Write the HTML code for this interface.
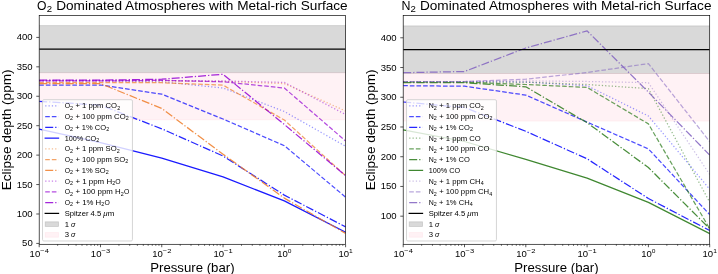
<!DOCTYPE html><html><head><meta charset="utf-8"><style>html,body{margin:0;padding:0;background:#fff}svg{display:block;filter:blur(0.4px)}</style></head><body><svg width="718" height="274" viewBox="0 0 718 274" font-family='"Liberation Sans", sans-serif'>
<rect width="718" height="274" fill="#fff"/>
<clipPath id="clip1"><rect x="39.2" y="15.5" width="306.40000000000003" height="228.8"/></clipPath>
<g clip-path="url(#clip1)">
<rect x="37.2" y="25.62" width="310.40000000000003" height="47.09" fill="#808080" fill-opacity="0.3" stroke="#808080" stroke-opacity="0.3" stroke-width="0.833"/>
<rect x="37.2" y="72.71" width="310.40000000000003" height="47.09" fill="#ffc0cb" fill-opacity="0.2" stroke="#ffc0cb" stroke-opacity="0.2" stroke-width="0.833"/>
<polyline points="39.20,80.90 100.48,80.90 161.76,81.80 223.04,88.00 284.32,111.50 345.60,146.30" fill="none" stroke="#0000ff" stroke-opacity="0.4" stroke-width="1.250" stroke-dasharray="1.250,2.062" stroke-linecap="butt" stroke-linejoin="round"/>
<polyline points="39.20,85.00 100.48,85.00 161.76,94.20 223.04,119.00 284.32,145.70 345.60,197.10" fill="none" stroke="#0000ff" stroke-opacity="0.7" stroke-width="1.250" stroke-dasharray="4.625,2.000" stroke-linecap="butt" stroke-linejoin="round"/>
<polyline points="39.20,101.30 100.48,105.10 161.76,128.80 223.04,156.00 284.32,195.10 345.60,226.90" fill="none" stroke="#0000ff" stroke-opacity="0.85" stroke-width="1.250" stroke-dasharray="8.000,2.000,1.250,2.000" stroke-linecap="butt" stroke-linejoin="round"/>
<polyline points="39.20,129.20 100.48,142.70 161.76,158.10 223.04,176.90 284.32,200.90 345.60,232.20" fill="none" stroke="#0000ff" stroke-opacity="0.9" stroke-width="1.250" stroke-linecap="square" stroke-linejoin="round"/>
<polyline points="39.20,80.90 100.48,80.90 161.76,80.90 223.04,81.50 284.32,83.60 345.60,111.00" fill="none" stroke="#ee7d28" stroke-opacity="0.5" stroke-width="1.250" stroke-dasharray="1.250,2.062" stroke-linecap="butt" stroke-linejoin="round"/>
<polyline points="39.20,82.70 100.48,82.70 161.76,82.70 223.04,85.10 284.32,120.00 345.60,175.70" fill="none" stroke="#ee7d28" stroke-opacity="0.7" stroke-width="1.250" stroke-dasharray="4.625,2.000" stroke-linecap="butt" stroke-linejoin="round"/>
<polyline points="39.20,83.60 100.48,83.60 161.76,108.50 223.04,154.20 284.32,198.10 345.60,233.40" fill="none" stroke="#ee7d28" stroke-opacity="0.85" stroke-width="1.250" stroke-dasharray="8.000,2.000,1.250,2.000" stroke-linecap="butt" stroke-linejoin="round"/>
<polyline points="39.20,80.40 100.48,80.40 161.76,80.40 223.04,80.90 284.32,82.40 345.60,114.50" fill="none" stroke="#9400d3" stroke-opacity="0.5" stroke-width="1.250" stroke-dasharray="1.250,2.062" stroke-linecap="butt" stroke-linejoin="round"/>
<polyline points="39.20,80.90 100.48,80.90 161.76,80.40 223.04,81.80 284.32,88.00 345.60,141.00" fill="none" stroke="#9400d3" stroke-opacity="0.7" stroke-width="1.250" stroke-dasharray="4.625,2.000" stroke-linecap="butt" stroke-linejoin="round"/>
<polyline points="39.20,80.20 100.48,80.20 161.76,79.20 223.04,74.30 284.32,124.50 345.60,175.70" fill="none" stroke="#9400d3" stroke-opacity="0.85" stroke-width="1.250" stroke-dasharray="8.000,2.000,1.250,2.000" stroke-linecap="butt" stroke-linejoin="round"/>
<line x1="39.2" x2="345.6" y1="49.17" y2="49.17" stroke="#000" stroke-width="1.250"/>
</g>
<rect x="39.2" y="15.5" width="306.40000000000003" height="228.8" fill="none" stroke="#000" stroke-width="0.667" stroke-linejoin="miter"/>
<line x1="39.20" x2="39.20" y1="244.3" y2="247.22" stroke="#000" stroke-width="0.667"/>
<g transform="translate(39.20 256.60)" fill="#000000"><text x="-9.64" y="0.00" font-size="8.75" textLength="10.60" lengthAdjust="spacingAndGlyphs" xml:space="preserve">10</text><text x="1.04" y="-3.19" font-size="6.12" textLength="8.60" lengthAdjust="spacingAndGlyphs" xml:space="preserve">−4</text></g>
<line x1="57.65" x2="57.65" y1="244.3" y2="245.97" stroke="#000" stroke-width="0.500"/>
<line x1="68.44" x2="68.44" y1="244.3" y2="245.97" stroke="#000" stroke-width="0.500"/>
<line x1="76.09" x2="76.09" y1="244.3" y2="245.97" stroke="#000" stroke-width="0.500"/>
<line x1="82.03" x2="82.03" y1="244.3" y2="245.97" stroke="#000" stroke-width="0.500"/>
<line x1="86.89" x2="86.89" y1="244.3" y2="245.97" stroke="#000" stroke-width="0.500"/>
<line x1="90.99" x2="90.99" y1="244.3" y2="245.97" stroke="#000" stroke-width="0.500"/>
<line x1="94.54" x2="94.54" y1="244.3" y2="245.97" stroke="#000" stroke-width="0.500"/>
<line x1="97.68" x2="97.68" y1="244.3" y2="245.97" stroke="#000" stroke-width="0.500"/>
<line x1="100.48" x2="100.48" y1="244.3" y2="247.22" stroke="#000" stroke-width="0.667"/>
<g transform="translate(100.48 256.60)" fill="#000000"><text x="-9.64" y="0.00" font-size="8.75" textLength="10.60" lengthAdjust="spacingAndGlyphs" xml:space="preserve">10</text><text x="1.04" y="-3.19" font-size="6.12" textLength="8.60" lengthAdjust="spacingAndGlyphs" xml:space="preserve">−3</text></g>
<line x1="118.93" x2="118.93" y1="244.3" y2="245.97" stroke="#000" stroke-width="0.500"/>
<line x1="129.72" x2="129.72" y1="244.3" y2="245.97" stroke="#000" stroke-width="0.500"/>
<line x1="137.37" x2="137.37" y1="244.3" y2="245.97" stroke="#000" stroke-width="0.500"/>
<line x1="143.31" x2="143.31" y1="244.3" y2="245.97" stroke="#000" stroke-width="0.500"/>
<line x1="148.17" x2="148.17" y1="244.3" y2="245.97" stroke="#000" stroke-width="0.500"/>
<line x1="152.27" x2="152.27" y1="244.3" y2="245.97" stroke="#000" stroke-width="0.500"/>
<line x1="155.82" x2="155.82" y1="244.3" y2="245.97" stroke="#000" stroke-width="0.500"/>
<line x1="158.96" x2="158.96" y1="244.3" y2="245.97" stroke="#000" stroke-width="0.500"/>
<line x1="161.76" x2="161.76" y1="244.3" y2="247.22" stroke="#000" stroke-width="0.667"/>
<g transform="translate(161.76 256.60)" fill="#000000"><text x="-9.64" y="0.00" font-size="8.75" textLength="10.60" lengthAdjust="spacingAndGlyphs" xml:space="preserve">10</text><text x="1.04" y="-3.19" font-size="6.12" textLength="8.60" lengthAdjust="spacingAndGlyphs" xml:space="preserve">−2</text></g>
<line x1="180.21" x2="180.21" y1="244.3" y2="245.97" stroke="#000" stroke-width="0.500"/>
<line x1="191.00" x2="191.00" y1="244.3" y2="245.97" stroke="#000" stroke-width="0.500"/>
<line x1="198.65" x2="198.65" y1="244.3" y2="245.97" stroke="#000" stroke-width="0.500"/>
<line x1="204.59" x2="204.59" y1="244.3" y2="245.97" stroke="#000" stroke-width="0.500"/>
<line x1="209.45" x2="209.45" y1="244.3" y2="245.97" stroke="#000" stroke-width="0.500"/>
<line x1="213.55" x2="213.55" y1="244.3" y2="245.97" stroke="#000" stroke-width="0.500"/>
<line x1="217.10" x2="217.10" y1="244.3" y2="245.97" stroke="#000" stroke-width="0.500"/>
<line x1="220.24" x2="220.24" y1="244.3" y2="245.97" stroke="#000" stroke-width="0.500"/>
<line x1="223.04" x2="223.04" y1="244.3" y2="247.22" stroke="#000" stroke-width="0.667"/>
<g transform="translate(223.04 256.60)" fill="#000000"><text x="-9.64" y="0.00" font-size="8.75" textLength="10.60" lengthAdjust="spacingAndGlyphs" xml:space="preserve">10</text><text x="1.04" y="-3.19" font-size="6.12" textLength="8.60" lengthAdjust="spacingAndGlyphs" xml:space="preserve">−1</text></g>
<line x1="241.49" x2="241.49" y1="244.3" y2="245.97" stroke="#000" stroke-width="0.500"/>
<line x1="252.28" x2="252.28" y1="244.3" y2="245.97" stroke="#000" stroke-width="0.500"/>
<line x1="259.93" x2="259.93" y1="244.3" y2="245.97" stroke="#000" stroke-width="0.500"/>
<line x1="265.87" x2="265.87" y1="244.3" y2="245.97" stroke="#000" stroke-width="0.500"/>
<line x1="270.73" x2="270.73" y1="244.3" y2="245.97" stroke="#000" stroke-width="0.500"/>
<line x1="274.83" x2="274.83" y1="244.3" y2="245.97" stroke="#000" stroke-width="0.500"/>
<line x1="278.38" x2="278.38" y1="244.3" y2="245.97" stroke="#000" stroke-width="0.500"/>
<line x1="281.52" x2="281.52" y1="244.3" y2="245.97" stroke="#000" stroke-width="0.500"/>
<line x1="284.32" x2="284.32" y1="244.3" y2="247.22" stroke="#000" stroke-width="0.667"/>
<g transform="translate(284.32 256.60)" fill="#000000"><text x="-7.20" y="0.00" font-size="8.75" textLength="10.60" lengthAdjust="spacingAndGlyphs" xml:space="preserve">10</text><text x="3.48" y="-3.19" font-size="6.12" textLength="3.71" lengthAdjust="spacingAndGlyphs" xml:space="preserve">0</text></g>
<line x1="302.77" x2="302.77" y1="244.3" y2="245.97" stroke="#000" stroke-width="0.500"/>
<line x1="313.56" x2="313.56" y1="244.3" y2="245.97" stroke="#000" stroke-width="0.500"/>
<line x1="321.21" x2="321.21" y1="244.3" y2="245.97" stroke="#000" stroke-width="0.500"/>
<line x1="327.15" x2="327.15" y1="244.3" y2="245.97" stroke="#000" stroke-width="0.500"/>
<line x1="332.01" x2="332.01" y1="244.3" y2="245.97" stroke="#000" stroke-width="0.500"/>
<line x1="336.11" x2="336.11" y1="244.3" y2="245.97" stroke="#000" stroke-width="0.500"/>
<line x1="339.66" x2="339.66" y1="244.3" y2="245.97" stroke="#000" stroke-width="0.500"/>
<line x1="342.80" x2="342.80" y1="244.3" y2="245.97" stroke="#000" stroke-width="0.500"/>
<line x1="345.60" x2="345.60" y1="244.3" y2="247.22" stroke="#000" stroke-width="0.667"/>
<g transform="translate(345.60 256.60)" fill="#000000"><text x="-7.20" y="0.00" font-size="8.75" textLength="10.60" lengthAdjust="spacingAndGlyphs" xml:space="preserve">10</text><text x="3.48" y="-3.19" font-size="6.12" textLength="3.71" lengthAdjust="spacingAndGlyphs" xml:space="preserve">1</text></g>
<line x1="36.28" x2="39.2" y1="243.42" y2="243.42" stroke="#000" stroke-width="0.667"/>
<g transform="translate(32.67 246.42)" fill="#000000"><text x="-10.60" y="0.00" font-size="8.75" textLength="10.60" lengthAdjust="spacingAndGlyphs" xml:space="preserve">50</text></g>
<line x1="36.28" x2="39.2" y1="213.99" y2="213.99" stroke="#000" stroke-width="0.667"/>
<g transform="translate(32.67 216.99)" fill="#000000"><text x="-15.91" y="0.00" font-size="8.75" textLength="15.91" lengthAdjust="spacingAndGlyphs" xml:space="preserve">100</text></g>
<line x1="36.28" x2="39.2" y1="184.55" y2="184.55" stroke="#000" stroke-width="0.667"/>
<g transform="translate(32.67 187.55)" fill="#000000"><text x="-15.91" y="0.00" font-size="8.75" textLength="15.91" lengthAdjust="spacingAndGlyphs" xml:space="preserve">150</text></g>
<line x1="36.28" x2="39.2" y1="155.12" y2="155.12" stroke="#000" stroke-width="0.667"/>
<g transform="translate(32.67 158.12)" fill="#000000"><text x="-15.91" y="0.00" font-size="8.75" textLength="15.91" lengthAdjust="spacingAndGlyphs" xml:space="preserve">200</text></g>
<line x1="36.28" x2="39.2" y1="125.69" y2="125.69" stroke="#000" stroke-width="0.667"/>
<g transform="translate(32.67 128.69)" fill="#000000"><text x="-15.91" y="0.00" font-size="8.75" textLength="15.91" lengthAdjust="spacingAndGlyphs" xml:space="preserve">250</text></g>
<line x1="36.28" x2="39.2" y1="96.26" y2="96.26" stroke="#000" stroke-width="0.667"/>
<g transform="translate(32.67 99.26)" fill="#000000"><text x="-15.91" y="0.00" font-size="8.75" textLength="15.91" lengthAdjust="spacingAndGlyphs" xml:space="preserve">300</text></g>
<line x1="36.28" x2="39.2" y1="66.83" y2="66.83" stroke="#000" stroke-width="0.667"/>
<g transform="translate(32.67 69.83)" fill="#000000"><text x="-15.91" y="0.00" font-size="8.75" textLength="15.91" lengthAdjust="spacingAndGlyphs" xml:space="preserve">350</text></g>
<line x1="36.28" x2="39.2" y1="37.40" y2="37.40" stroke="#000" stroke-width="0.667"/>
<g transform="translate(32.67 40.40)" fill="#000000"><text x="-15.91" y="0.00" font-size="8.75" textLength="15.91" lengthAdjust="spacingAndGlyphs" xml:space="preserve">400</text></g>
<g transform="translate(192.40 10.40)" fill="#000000"><text x="-155.29" y="0.00" font-size="12.60" textLength="9.45" lengthAdjust="spacingAndGlyphs" xml:space="preserve">O</text><text x="-145.73" y="1.97" font-size="8.82" textLength="5.34" lengthAdjust="spacingAndGlyphs" xml:space="preserve">2</text><text x="-140.05" y="0.00" font-size="12.60" textLength="295.34" lengthAdjust="spacingAndGlyphs" xml:space="preserve"> Dominated Atmospheres with Metal-rich Surface</text></g>
<g transform="translate(192.40 272.10)" fill="#000000"><text x="-42.16" y="0.00" font-size="12.60" textLength="84.32" lengthAdjust="spacingAndGlyphs" xml:space="preserve">Pressure (bar)</text></g>
<g transform="translate(10.70 129.90) rotate(-90)" fill="#000000"><text x="-60.47" y="0.00" font-size="12.60" textLength="120.94" lengthAdjust="spacingAndGlyphs" xml:space="preserve">Eclipse depth (ppm)</text></g>
<rect x="42.53" y="99.70" width="89.90" height="141.27" rx="1.33" fill="#fff" fill-opacity="0.8" stroke="#cccccc" stroke-width="0.833"/>
<line x1="45.20" x2="58.53" y1="105.90" y2="105.90" stroke="#0000ff" stroke-opacity="0.4" stroke-width="1.250" stroke-dasharray="1.250,2.062" stroke-linecap="butt"/>
<g transform="translate(64.67 108.40)" fill="#000000"><text x="0.00" y="0.00" font-size="7.11" textLength="5.33" lengthAdjust="spacingAndGlyphs" xml:space="preserve">O</text><text x="5.39" y="1.11" font-size="4.97" textLength="3.01" lengthAdjust="spacingAndGlyphs" xml:space="preserve">2</text><text x="8.59" y="0.00" font-size="7.11" textLength="43.81" lengthAdjust="spacingAndGlyphs" xml:space="preserve"> + 1 ppm CO</text><text x="52.47" y="1.11" font-size="4.97" textLength="3.01" lengthAdjust="spacingAndGlyphs" xml:space="preserve">2</text></g>
<line x1="45.20" x2="58.53" y1="116.65" y2="116.65" stroke="#0000ff" stroke-opacity="0.7" stroke-width="1.250" stroke-dasharray="4.625,2.000" stroke-linecap="butt"/>
<g transform="translate(64.67 119.15)" fill="#000000"><text x="0.00" y="0.00" font-size="7.11" textLength="5.33" lengthAdjust="spacingAndGlyphs" xml:space="preserve">O</text><text x="5.39" y="1.11" font-size="4.97" textLength="3.01" lengthAdjust="spacingAndGlyphs" xml:space="preserve">2</text><text x="8.59" y="0.00" font-size="7.11" textLength="52.42" lengthAdjust="spacingAndGlyphs" xml:space="preserve"> + 100 ppm CO</text><text x="61.08" y="1.11" font-size="4.97" textLength="3.01" lengthAdjust="spacingAndGlyphs" xml:space="preserve">2</text></g>
<line x1="45.20" x2="58.53" y1="127.40" y2="127.40" stroke="#0000ff" stroke-opacity="0.85" stroke-width="1.250" stroke-dasharray="8.000,2.000,1.250,2.000" stroke-linecap="butt"/>
<g transform="translate(64.67 129.90)" fill="#000000"><text x="0.00" y="0.00" font-size="7.11" textLength="5.33" lengthAdjust="spacingAndGlyphs" xml:space="preserve">O</text><text x="5.39" y="1.11" font-size="4.97" textLength="3.01" lengthAdjust="spacingAndGlyphs" xml:space="preserve">2</text><text x="8.59" y="0.00" font-size="7.11" textLength="32.91" lengthAdjust="spacingAndGlyphs" xml:space="preserve"> + 1% CO</text><text x="41.57" y="1.11" font-size="4.97" textLength="3.01" lengthAdjust="spacingAndGlyphs" xml:space="preserve">2</text></g>
<line x1="45.20" x2="58.53" y1="138.15" y2="138.15" stroke="#0000ff" stroke-opacity="0.9" stroke-width="1.250" stroke-linecap="square"/>
<g transform="translate(64.67 140.65)" fill="#000000"><text x="0.00" y="0.00" font-size="7.11" textLength="31.55" lengthAdjust="spacingAndGlyphs" xml:space="preserve">100% CO</text><text x="31.61" y="1.11" font-size="4.97" textLength="3.01" lengthAdjust="spacingAndGlyphs" xml:space="preserve">2</text></g>
<line x1="45.20" x2="58.53" y1="148.90" y2="148.90" stroke="#ee7d28" stroke-opacity="0.5" stroke-width="1.250" stroke-dasharray="1.250,2.062" stroke-linecap="butt"/>
<g transform="translate(64.67 151.40)" fill="#000000"><text x="0.00" y="0.00" font-size="7.11" textLength="5.33" lengthAdjust="spacingAndGlyphs" xml:space="preserve">O</text><text x="5.39" y="1.11" font-size="4.97" textLength="3.01" lengthAdjust="spacingAndGlyphs" xml:space="preserve">2</text><text x="8.59" y="0.00" font-size="7.11" textLength="43.38" lengthAdjust="spacingAndGlyphs" xml:space="preserve"> + 1 ppm SO</text><text x="52.04" y="1.11" font-size="4.97" textLength="3.01" lengthAdjust="spacingAndGlyphs" xml:space="preserve">2</text></g>
<line x1="45.20" x2="58.53" y1="159.65" y2="159.65" stroke="#ee7d28" stroke-opacity="0.7" stroke-width="1.250" stroke-dasharray="4.625,2.000" stroke-linecap="butt"/>
<g transform="translate(64.67 162.15)" fill="#000000"><text x="0.00" y="0.00" font-size="7.11" textLength="5.33" lengthAdjust="spacingAndGlyphs" xml:space="preserve">O</text><text x="5.39" y="1.11" font-size="4.97" textLength="3.01" lengthAdjust="spacingAndGlyphs" xml:space="preserve">2</text><text x="8.59" y="0.00" font-size="7.11" textLength="51.99" lengthAdjust="spacingAndGlyphs" xml:space="preserve"> + 100 ppm SO</text><text x="60.65" y="1.11" font-size="4.97" textLength="3.01" lengthAdjust="spacingAndGlyphs" xml:space="preserve">2</text></g>
<line x1="45.20" x2="58.53" y1="170.40" y2="170.40" stroke="#ee7d28" stroke-opacity="0.85" stroke-width="1.250" stroke-dasharray="8.000,2.000,1.250,2.000" stroke-linecap="butt"/>
<g transform="translate(64.67 172.90)" fill="#000000"><text x="0.00" y="0.00" font-size="7.11" textLength="5.33" lengthAdjust="spacingAndGlyphs" xml:space="preserve">O</text><text x="5.39" y="1.11" font-size="4.97" textLength="3.01" lengthAdjust="spacingAndGlyphs" xml:space="preserve">2</text><text x="8.59" y="0.00" font-size="7.11" textLength="32.48" lengthAdjust="spacingAndGlyphs" xml:space="preserve"> + 1% SO</text><text x="41.14" y="1.11" font-size="4.97" textLength="3.01" lengthAdjust="spacingAndGlyphs" xml:space="preserve">2</text></g>
<line x1="45.20" x2="58.53" y1="181.15" y2="181.15" stroke="#9400d3" stroke-opacity="0.5" stroke-width="1.250" stroke-dasharray="1.250,2.062" stroke-linecap="butt"/>
<g transform="translate(64.67 183.65)" fill="#000000"><text x="0.00" y="0.00" font-size="7.11" textLength="5.33" lengthAdjust="spacingAndGlyphs" xml:space="preserve">O</text><text x="5.39" y="1.11" font-size="4.97" textLength="3.01" lengthAdjust="spacingAndGlyphs" xml:space="preserve">2</text><text x="8.59" y="0.00" font-size="7.11" textLength="38.85" lengthAdjust="spacingAndGlyphs" xml:space="preserve"> + 1 ppm H</text><text x="47.51" y="1.11" font-size="4.97" textLength="3.01" lengthAdjust="spacingAndGlyphs" xml:space="preserve">2</text><text x="50.71" y="0.00" font-size="7.11" textLength="5.33" lengthAdjust="spacingAndGlyphs" xml:space="preserve">O</text></g>
<line x1="45.20" x2="58.53" y1="191.90" y2="191.90" stroke="#9400d3" stroke-opacity="0.7" stroke-width="1.250" stroke-dasharray="4.625,2.000" stroke-linecap="butt"/>
<g transform="translate(64.67 194.40)" fill="#000000"><text x="0.00" y="0.00" font-size="7.11" textLength="5.33" lengthAdjust="spacingAndGlyphs" xml:space="preserve">O</text><text x="5.39" y="1.11" font-size="4.97" textLength="3.01" lengthAdjust="spacingAndGlyphs" xml:space="preserve">2</text><text x="8.59" y="0.00" font-size="7.11" textLength="47.46" lengthAdjust="spacingAndGlyphs" xml:space="preserve"> + 100 ppm H</text><text x="56.12" y="1.11" font-size="4.97" textLength="3.01" lengthAdjust="spacingAndGlyphs" xml:space="preserve">2</text><text x="59.32" y="0.00" font-size="7.11" textLength="5.33" lengthAdjust="spacingAndGlyphs" xml:space="preserve">O</text></g>
<line x1="45.20" x2="58.53" y1="202.65" y2="202.65" stroke="#9400d3" stroke-opacity="0.85" stroke-width="1.250" stroke-dasharray="8.000,2.000,1.250,2.000" stroke-linecap="butt"/>
<g transform="translate(64.67 205.15)" fill="#000000"><text x="0.00" y="0.00" font-size="7.11" textLength="5.33" lengthAdjust="spacingAndGlyphs" xml:space="preserve">O</text><text x="5.39" y="1.11" font-size="4.97" textLength="3.01" lengthAdjust="spacingAndGlyphs" xml:space="preserve">2</text><text x="8.59" y="0.00" font-size="7.11" textLength="27.95" lengthAdjust="spacingAndGlyphs" xml:space="preserve"> + 1% H</text><text x="36.61" y="1.11" font-size="4.97" textLength="3.01" lengthAdjust="spacingAndGlyphs" xml:space="preserve">2</text><text x="39.81" y="0.00" font-size="7.11" textLength="5.33" lengthAdjust="spacingAndGlyphs" xml:space="preserve">O</text></g>
<line x1="45.20" x2="58.53" y1="213.40" y2="213.40" stroke="#000000" stroke-opacity="1" stroke-width="1.250" stroke-linecap="square"/>
<g transform="translate(64.67 215.90)" fill="#000000"><text x="0.00" y="0.00" font-size="7.11" textLength="38.68" lengthAdjust="spacingAndGlyphs" xml:space="preserve">Spitzer 4.5 </text><text x="38.68" y="0.00" font-size="7.11" textLength="4.31" lengthAdjust="spacingAndGlyphs" font-style="italic" xml:space="preserve">μ</text><text x="42.99" y="0.00" font-size="7.11" textLength="6.59" lengthAdjust="spacingAndGlyphs" xml:space="preserve">m</text></g>
<rect x="45.20" y="221.82" width="13.33" height="4.67" fill="#808080" fill-opacity="0.3" stroke="#808080" stroke-opacity="0.3" stroke-width="0.833"/>
<g transform="translate(64.67 226.65)" fill="#000000"><text x="0.00" y="0.00" font-size="7.11" textLength="6.46" lengthAdjust="spacingAndGlyphs" xml:space="preserve">1 </text><text x="6.46" y="0.00" font-size="7.11" textLength="4.29" lengthAdjust="spacingAndGlyphs" font-style="italic" xml:space="preserve">σ</text></g>
<rect x="45.20" y="232.57" width="13.33" height="4.67" fill="#ffc0cb" fill-opacity="0.2" stroke="#ffc0cb" stroke-opacity="0.2" stroke-width="0.833"/>
<g transform="translate(64.67 237.40)" fill="#000000"><text x="0.00" y="0.00" font-size="7.11" textLength="6.46" lengthAdjust="spacingAndGlyphs" xml:space="preserve">3 </text><text x="6.46" y="0.00" font-size="7.11" textLength="4.29" lengthAdjust="spacingAndGlyphs" font-style="italic" xml:space="preserve">σ</text></g>
<clipPath id="clip2"><rect x="403.2" y="15.5" width="306.50000000000006" height="228.8"/></clipPath>
<g clip-path="url(#clip2)">
<rect x="401.2" y="25.90" width="310.50000000000006" height="47.57" fill="#808080" fill-opacity="0.3" stroke="#808080" stroke-opacity="0.3" stroke-width="0.833"/>
<rect x="401.2" y="73.47" width="310.50000000000006" height="47.57" fill="#ffc0cb" fill-opacity="0.2" stroke="#ffc0cb" stroke-opacity="0.2" stroke-width="0.833"/>
<polyline points="403.20,81.50 464.50,81.50 525.80,82.10 587.10,85.70 648.40,116.00 709.70,189.20" fill="none" stroke="#0000ff" stroke-opacity="0.4" stroke-width="1.250" stroke-dasharray="1.250,2.062" stroke-linecap="butt" stroke-linejoin="round"/>
<polyline points="403.20,85.70 464.50,86.20 525.80,95.10 587.10,122.10 648.40,148.90 709.70,214.60" fill="none" stroke="#0000ff" stroke-opacity="0.7" stroke-width="1.250" stroke-dasharray="4.625,2.000" stroke-linecap="butt" stroke-linejoin="round"/>
<polyline points="403.20,102.00 464.50,107.50 525.80,131.30 587.10,158.80 648.40,198.50 709.70,230.50" fill="none" stroke="#0000ff" stroke-opacity="0.85" stroke-width="1.250" stroke-dasharray="8.000,2.000,1.250,2.000" stroke-linecap="butt" stroke-linejoin="round"/>
<polyline points="403.20,82.10 464.50,82.10 525.80,82.10 587.10,84.50 648.40,88.60 709.70,202.20" fill="none" stroke="#2a7a1a" stroke-opacity="0.5" stroke-width="1.250" stroke-dasharray="1.250,2.062" stroke-linecap="butt" stroke-linejoin="round"/>
<polyline points="403.20,82.10 464.50,82.10 525.80,84.50 587.10,87.40 648.40,123.90 709.70,228.70" fill="none" stroke="#2a7a1a" stroke-opacity="0.7" stroke-width="1.250" stroke-dasharray="4.625,2.000" stroke-linecap="butt" stroke-linejoin="round"/>
<polyline points="403.20,82.70 464.50,82.70 525.80,86.80 587.10,122.70 648.40,167.50 709.70,228.70" fill="none" stroke="#2a7a1a" stroke-opacity="0.85" stroke-width="1.250" stroke-dasharray="8.000,2.000,1.250,2.000" stroke-linecap="butt" stroke-linejoin="round"/>
<polyline points="403.20,129.90 464.50,141.50 525.80,159.30 587.10,178.20 648.40,202.40 709.70,233.60" fill="none" stroke="#2a7a1a" stroke-opacity="0.9" stroke-width="1.250" stroke-linecap="square" stroke-linejoin="round"/>
<polyline points="403.20,81.50 464.50,81.50 525.80,80.90 587.10,81.50 648.40,82.70 709.70,174.50" fill="none" stroke="#8060c0" stroke-opacity="0.4" stroke-width="1.250" stroke-dasharray="1.250,2.062" stroke-linecap="butt" stroke-linejoin="round"/>
<polyline points="403.20,81.50 464.50,81.50 525.80,79.20 587.10,72.50 648.40,63.60 709.70,141.60" fill="none" stroke="#8060c0" stroke-opacity="0.55" stroke-width="1.250" stroke-dasharray="4.625,2.000" stroke-linecap="butt" stroke-linejoin="round"/>
<polyline points="403.20,72.70 464.50,71.50 525.80,48.00 587.10,30.90 648.40,92.10 709.70,155.10" fill="none" stroke="#8060c0" stroke-opacity="0.85" stroke-width="1.250" stroke-dasharray="8.000,2.000,1.250,2.000" stroke-linecap="butt" stroke-linejoin="round"/>
<line x1="403.2" x2="709.7" y1="49.69" y2="49.69" stroke="#000" stroke-width="1.250"/>
</g>
<rect x="403.2" y="15.5" width="306.50000000000006" height="228.8" fill="none" stroke="#000" stroke-width="0.667" stroke-linejoin="miter"/>
<line x1="403.20" x2="403.20" y1="244.3" y2="247.22" stroke="#000" stroke-width="0.667"/>
<g transform="translate(403.20 256.60)" fill="#000000"><text x="-9.64" y="0.00" font-size="8.75" textLength="10.60" lengthAdjust="spacingAndGlyphs" xml:space="preserve">10</text><text x="1.04" y="-3.19" font-size="6.12" textLength="8.60" lengthAdjust="spacingAndGlyphs" xml:space="preserve">−4</text></g>
<line x1="421.65" x2="421.65" y1="244.3" y2="245.97" stroke="#000" stroke-width="0.500"/>
<line x1="432.45" x2="432.45" y1="244.3" y2="245.97" stroke="#000" stroke-width="0.500"/>
<line x1="440.11" x2="440.11" y1="244.3" y2="245.97" stroke="#000" stroke-width="0.500"/>
<line x1="446.05" x2="446.05" y1="244.3" y2="245.97" stroke="#000" stroke-width="0.500"/>
<line x1="450.90" x2="450.90" y1="244.3" y2="245.97" stroke="#000" stroke-width="0.500"/>
<line x1="455.00" x2="455.00" y1="244.3" y2="245.97" stroke="#000" stroke-width="0.500"/>
<line x1="458.56" x2="458.56" y1="244.3" y2="245.97" stroke="#000" stroke-width="0.500"/>
<line x1="461.70" x2="461.70" y1="244.3" y2="245.97" stroke="#000" stroke-width="0.500"/>
<line x1="464.50" x2="464.50" y1="244.3" y2="247.22" stroke="#000" stroke-width="0.667"/>
<g transform="translate(464.50 256.60)" fill="#000000"><text x="-9.64" y="0.00" font-size="8.75" textLength="10.60" lengthAdjust="spacingAndGlyphs" xml:space="preserve">10</text><text x="1.04" y="-3.19" font-size="6.12" textLength="8.60" lengthAdjust="spacingAndGlyphs" xml:space="preserve">−3</text></g>
<line x1="482.95" x2="482.95" y1="244.3" y2="245.97" stroke="#000" stroke-width="0.500"/>
<line x1="493.75" x2="493.75" y1="244.3" y2="245.97" stroke="#000" stroke-width="0.500"/>
<line x1="501.41" x2="501.41" y1="244.3" y2="245.97" stroke="#000" stroke-width="0.500"/>
<line x1="507.35" x2="507.35" y1="244.3" y2="245.97" stroke="#000" stroke-width="0.500"/>
<line x1="512.20" x2="512.20" y1="244.3" y2="245.97" stroke="#000" stroke-width="0.500"/>
<line x1="516.30" x2="516.30" y1="244.3" y2="245.97" stroke="#000" stroke-width="0.500"/>
<line x1="519.86" x2="519.86" y1="244.3" y2="245.97" stroke="#000" stroke-width="0.500"/>
<line x1="523.00" x2="523.00" y1="244.3" y2="245.97" stroke="#000" stroke-width="0.500"/>
<line x1="525.80" x2="525.80" y1="244.3" y2="247.22" stroke="#000" stroke-width="0.667"/>
<g transform="translate(525.80 256.60)" fill="#000000"><text x="-9.64" y="0.00" font-size="8.75" textLength="10.60" lengthAdjust="spacingAndGlyphs" xml:space="preserve">10</text><text x="1.04" y="-3.19" font-size="6.12" textLength="8.60" lengthAdjust="spacingAndGlyphs" xml:space="preserve">−2</text></g>
<line x1="544.25" x2="544.25" y1="244.3" y2="245.97" stroke="#000" stroke-width="0.500"/>
<line x1="555.05" x2="555.05" y1="244.3" y2="245.97" stroke="#000" stroke-width="0.500"/>
<line x1="562.71" x2="562.71" y1="244.3" y2="245.97" stroke="#000" stroke-width="0.500"/>
<line x1="568.65" x2="568.65" y1="244.3" y2="245.97" stroke="#000" stroke-width="0.500"/>
<line x1="573.50" x2="573.50" y1="244.3" y2="245.97" stroke="#000" stroke-width="0.500"/>
<line x1="577.60" x2="577.60" y1="244.3" y2="245.97" stroke="#000" stroke-width="0.500"/>
<line x1="581.16" x2="581.16" y1="244.3" y2="245.97" stroke="#000" stroke-width="0.500"/>
<line x1="584.30" x2="584.30" y1="244.3" y2="245.97" stroke="#000" stroke-width="0.500"/>
<line x1="587.10" x2="587.10" y1="244.3" y2="247.22" stroke="#000" stroke-width="0.667"/>
<g transform="translate(587.10 256.60)" fill="#000000"><text x="-9.64" y="0.00" font-size="8.75" textLength="10.60" lengthAdjust="spacingAndGlyphs" xml:space="preserve">10</text><text x="1.04" y="-3.19" font-size="6.12" textLength="8.60" lengthAdjust="spacingAndGlyphs" xml:space="preserve">−1</text></g>
<line x1="605.55" x2="605.55" y1="244.3" y2="245.97" stroke="#000" stroke-width="0.500"/>
<line x1="616.35" x2="616.35" y1="244.3" y2="245.97" stroke="#000" stroke-width="0.500"/>
<line x1="624.01" x2="624.01" y1="244.3" y2="245.97" stroke="#000" stroke-width="0.500"/>
<line x1="629.95" x2="629.95" y1="244.3" y2="245.97" stroke="#000" stroke-width="0.500"/>
<line x1="634.80" x2="634.80" y1="244.3" y2="245.97" stroke="#000" stroke-width="0.500"/>
<line x1="638.90" x2="638.90" y1="244.3" y2="245.97" stroke="#000" stroke-width="0.500"/>
<line x1="642.46" x2="642.46" y1="244.3" y2="245.97" stroke="#000" stroke-width="0.500"/>
<line x1="645.60" x2="645.60" y1="244.3" y2="245.97" stroke="#000" stroke-width="0.500"/>
<line x1="648.40" x2="648.40" y1="244.3" y2="247.22" stroke="#000" stroke-width="0.667"/>
<g transform="translate(648.40 256.60)" fill="#000000"><text x="-7.20" y="0.00" font-size="8.75" textLength="10.60" lengthAdjust="spacingAndGlyphs" xml:space="preserve">10</text><text x="3.48" y="-3.19" font-size="6.12" textLength="3.71" lengthAdjust="spacingAndGlyphs" xml:space="preserve">0</text></g>
<line x1="666.85" x2="666.85" y1="244.3" y2="245.97" stroke="#000" stroke-width="0.500"/>
<line x1="677.65" x2="677.65" y1="244.3" y2="245.97" stroke="#000" stroke-width="0.500"/>
<line x1="685.31" x2="685.31" y1="244.3" y2="245.97" stroke="#000" stroke-width="0.500"/>
<line x1="691.25" x2="691.25" y1="244.3" y2="245.97" stroke="#000" stroke-width="0.500"/>
<line x1="696.10" x2="696.10" y1="244.3" y2="245.97" stroke="#000" stroke-width="0.500"/>
<line x1="700.20" x2="700.20" y1="244.3" y2="245.97" stroke="#000" stroke-width="0.500"/>
<line x1="703.76" x2="703.76" y1="244.3" y2="245.97" stroke="#000" stroke-width="0.500"/>
<line x1="706.90" x2="706.90" y1="244.3" y2="245.97" stroke="#000" stroke-width="0.500"/>
<line x1="709.70" x2="709.70" y1="244.3" y2="247.22" stroke="#000" stroke-width="0.667"/>
<g transform="translate(709.70 256.60)" fill="#000000"><text x="-7.20" y="0.00" font-size="8.75" textLength="10.60" lengthAdjust="spacingAndGlyphs" xml:space="preserve">10</text><text x="3.48" y="-3.19" font-size="6.12" textLength="3.71" lengthAdjust="spacingAndGlyphs" xml:space="preserve">1</text></g>
<line x1="400.28" x2="403.2" y1="216.18" y2="216.18" stroke="#000" stroke-width="0.667"/>
<g transform="translate(396.67 219.18)" fill="#000000"><text x="-15.91" y="0.00" font-size="8.75" textLength="15.91" lengthAdjust="spacingAndGlyphs" xml:space="preserve">100</text></g>
<line x1="400.28" x2="403.2" y1="186.45" y2="186.45" stroke="#000" stroke-width="0.667"/>
<g transform="translate(396.67 189.45)" fill="#000000"><text x="-15.91" y="0.00" font-size="8.75" textLength="15.91" lengthAdjust="spacingAndGlyphs" xml:space="preserve">150</text></g>
<line x1="400.28" x2="403.2" y1="156.72" y2="156.72" stroke="#000" stroke-width="0.667"/>
<g transform="translate(396.67 159.72)" fill="#000000"><text x="-15.91" y="0.00" font-size="8.75" textLength="15.91" lengthAdjust="spacingAndGlyphs" xml:space="preserve">200</text></g>
<line x1="400.28" x2="403.2" y1="126.99" y2="126.99" stroke="#000" stroke-width="0.667"/>
<g transform="translate(396.67 129.99)" fill="#000000"><text x="-15.91" y="0.00" font-size="8.75" textLength="15.91" lengthAdjust="spacingAndGlyphs" xml:space="preserve">250</text></g>
<line x1="400.28" x2="403.2" y1="97.26" y2="97.26" stroke="#000" stroke-width="0.667"/>
<g transform="translate(396.67 100.26)" fill="#000000"><text x="-15.91" y="0.00" font-size="8.75" textLength="15.91" lengthAdjust="spacingAndGlyphs" xml:space="preserve">300</text></g>
<line x1="400.28" x2="403.2" y1="67.52" y2="67.52" stroke="#000" stroke-width="0.667"/>
<g transform="translate(396.67 70.52)" fill="#000000"><text x="-15.91" y="0.00" font-size="8.75" textLength="15.91" lengthAdjust="spacingAndGlyphs" xml:space="preserve">350</text></g>
<line x1="400.28" x2="403.2" y1="37.79" y2="37.79" stroke="#000" stroke-width="0.667"/>
<g transform="translate(396.67 40.79)" fill="#000000"><text x="-15.91" y="0.00" font-size="8.75" textLength="15.91" lengthAdjust="spacingAndGlyphs" xml:space="preserve">400</text></g>
<g transform="translate(556.45 10.40)" fill="#000000"><text x="-155.06" y="0.00" font-size="12.60" textLength="8.98" lengthAdjust="spacingAndGlyphs" xml:space="preserve">N</text><text x="-145.96" y="1.97" font-size="8.82" textLength="5.34" lengthAdjust="spacingAndGlyphs" xml:space="preserve">2</text><text x="-140.29" y="0.00" font-size="12.60" textLength="295.34" lengthAdjust="spacingAndGlyphs" xml:space="preserve"> Dominated Atmospheres with Metal-rich Surface</text></g>
<g transform="translate(556.45 272.10)" fill="#000000"><text x="-42.16" y="0.00" font-size="12.60" textLength="84.32" lengthAdjust="spacingAndGlyphs" xml:space="preserve">Pressure (bar)</text></g>
<g transform="translate(374.70 129.90) rotate(-90)" fill="#000000"><text x="-60.47" y="0.00" font-size="12.60" textLength="120.94" lengthAdjust="spacingAndGlyphs" xml:space="preserve">Eclipse depth (ppm)</text></g>
<rect x="406.53" y="99.70" width="89.90" height="141.27" rx="1.33" fill="#fff" fill-opacity="0.8" stroke="#cccccc" stroke-width="0.833"/>
<line x1="409.20" x2="422.53" y1="105.90" y2="105.90" stroke="#0000ff" stroke-opacity="0.4" stroke-width="1.250" stroke-dasharray="1.250,2.062" stroke-linecap="butt"/>
<g transform="translate(428.67 108.40)" fill="#000000"><text x="0.00" y="0.00" font-size="7.11" textLength="5.06" lengthAdjust="spacingAndGlyphs" xml:space="preserve">N</text><text x="5.13" y="1.11" font-size="4.97" textLength="3.01" lengthAdjust="spacingAndGlyphs" xml:space="preserve">2</text><text x="8.33" y="0.00" font-size="7.11" textLength="43.81" lengthAdjust="spacingAndGlyphs" xml:space="preserve"> + 1 ppm CO</text><text x="52.21" y="1.11" font-size="4.97" textLength="3.01" lengthAdjust="spacingAndGlyphs" xml:space="preserve">2</text></g>
<line x1="409.20" x2="422.53" y1="116.65" y2="116.65" stroke="#0000ff" stroke-opacity="0.7" stroke-width="1.250" stroke-dasharray="4.625,2.000" stroke-linecap="butt"/>
<g transform="translate(428.67 119.15)" fill="#000000"><text x="0.00" y="0.00" font-size="7.11" textLength="5.06" lengthAdjust="spacingAndGlyphs" xml:space="preserve">N</text><text x="5.13" y="1.11" font-size="4.97" textLength="3.01" lengthAdjust="spacingAndGlyphs" xml:space="preserve">2</text><text x="8.33" y="0.00" font-size="7.11" textLength="52.42" lengthAdjust="spacingAndGlyphs" xml:space="preserve"> + 100 ppm CO</text><text x="60.82" y="1.11" font-size="4.97" textLength="3.01" lengthAdjust="spacingAndGlyphs" xml:space="preserve">2</text></g>
<line x1="409.20" x2="422.53" y1="127.40" y2="127.40" stroke="#0000ff" stroke-opacity="0.85" stroke-width="1.250" stroke-dasharray="8.000,2.000,1.250,2.000" stroke-linecap="butt"/>
<g transform="translate(428.67 129.90)" fill="#000000"><text x="0.00" y="0.00" font-size="7.11" textLength="5.06" lengthAdjust="spacingAndGlyphs" xml:space="preserve">N</text><text x="5.13" y="1.11" font-size="4.97" textLength="3.01" lengthAdjust="spacingAndGlyphs" xml:space="preserve">2</text><text x="8.33" y="0.00" font-size="7.11" textLength="32.91" lengthAdjust="spacingAndGlyphs" xml:space="preserve"> + 1% CO</text><text x="41.31" y="1.11" font-size="4.97" textLength="3.01" lengthAdjust="spacingAndGlyphs" xml:space="preserve">2</text></g>
<line x1="409.20" x2="422.53" y1="138.15" y2="138.15" stroke="#2a7a1a" stroke-opacity="0.5" stroke-width="1.250" stroke-dasharray="1.250,2.062" stroke-linecap="butt"/>
<g transform="translate(428.67 140.65)" fill="#000000"><text x="0.00" y="0.00" font-size="7.11" textLength="5.06" lengthAdjust="spacingAndGlyphs" xml:space="preserve">N</text><text x="5.13" y="1.11" font-size="4.97" textLength="3.01" lengthAdjust="spacingAndGlyphs" xml:space="preserve">2</text><text x="8.33" y="0.00" font-size="7.11" textLength="43.81" lengthAdjust="spacingAndGlyphs" xml:space="preserve"> + 1 ppm CO</text></g>
<line x1="409.20" x2="422.53" y1="148.90" y2="148.90" stroke="#2a7a1a" stroke-opacity="0.7" stroke-width="1.250" stroke-dasharray="4.625,2.000" stroke-linecap="butt"/>
<g transform="translate(428.67 151.40)" fill="#000000"><text x="0.00" y="0.00" font-size="7.11" textLength="5.06" lengthAdjust="spacingAndGlyphs" xml:space="preserve">N</text><text x="5.13" y="1.11" font-size="4.97" textLength="3.01" lengthAdjust="spacingAndGlyphs" xml:space="preserve">2</text><text x="8.33" y="0.00" font-size="7.11" textLength="52.42" lengthAdjust="spacingAndGlyphs" xml:space="preserve"> + 100 ppm CO</text></g>
<line x1="409.20" x2="422.53" y1="159.65" y2="159.65" stroke="#2a7a1a" stroke-opacity="0.85" stroke-width="1.250" stroke-dasharray="8.000,2.000,1.250,2.000" stroke-linecap="butt"/>
<g transform="translate(428.67 162.15)" fill="#000000"><text x="0.00" y="0.00" font-size="7.11" textLength="5.06" lengthAdjust="spacingAndGlyphs" xml:space="preserve">N</text><text x="5.13" y="1.11" font-size="4.97" textLength="3.01" lengthAdjust="spacingAndGlyphs" xml:space="preserve">2</text><text x="8.33" y="0.00" font-size="7.11" textLength="32.91" lengthAdjust="spacingAndGlyphs" xml:space="preserve"> + 1% CO</text></g>
<line x1="409.20" x2="422.53" y1="170.40" y2="170.40" stroke="#2a7a1a" stroke-opacity="0.9" stroke-width="1.250" stroke-linecap="square"/>
<g transform="translate(428.67 172.90)" fill="#000000"><text x="0.00" y="0.00" font-size="7.11" textLength="31.55" lengthAdjust="spacingAndGlyphs" xml:space="preserve">100% CO</text></g>
<line x1="409.20" x2="422.53" y1="181.15" y2="181.15" stroke="#8060c0" stroke-opacity="0.4" stroke-width="1.250" stroke-dasharray="1.250,2.062" stroke-linecap="butt"/>
<g transform="translate(428.67 183.65)" fill="#000000"><text x="0.00" y="0.00" font-size="7.11" textLength="5.06" lengthAdjust="spacingAndGlyphs" xml:space="preserve">N</text><text x="5.13" y="1.11" font-size="4.97" textLength="3.01" lengthAdjust="spacingAndGlyphs" xml:space="preserve">2</text><text x="8.33" y="0.00" font-size="7.11" textLength="43.57" lengthAdjust="spacingAndGlyphs" xml:space="preserve"> + 1 ppm CH</text><text x="51.97" y="1.11" font-size="4.97" textLength="3.01" lengthAdjust="spacingAndGlyphs" xml:space="preserve">4</text></g>
<line x1="409.20" x2="422.53" y1="191.90" y2="191.90" stroke="#8060c0" stroke-opacity="0.55" stroke-width="1.250" stroke-dasharray="4.625,2.000" stroke-linecap="butt"/>
<g transform="translate(428.67 194.40)" fill="#000000"><text x="0.00" y="0.00" font-size="7.11" textLength="5.06" lengthAdjust="spacingAndGlyphs" xml:space="preserve">N</text><text x="5.13" y="1.11" font-size="4.97" textLength="3.01" lengthAdjust="spacingAndGlyphs" xml:space="preserve">2</text><text x="8.33" y="0.00" font-size="7.11" textLength="52.18" lengthAdjust="spacingAndGlyphs" xml:space="preserve"> + 100 ppm CH</text><text x="60.58" y="1.11" font-size="4.97" textLength="3.01" lengthAdjust="spacingAndGlyphs" xml:space="preserve">4</text></g>
<line x1="409.20" x2="422.53" y1="202.65" y2="202.65" stroke="#8060c0" stroke-opacity="0.85" stroke-width="1.250" stroke-dasharray="8.000,2.000,1.250,2.000" stroke-linecap="butt"/>
<g transform="translate(428.67 205.15)" fill="#000000"><text x="0.00" y="0.00" font-size="7.11" textLength="5.06" lengthAdjust="spacingAndGlyphs" xml:space="preserve">N</text><text x="5.13" y="1.11" font-size="4.97" textLength="3.01" lengthAdjust="spacingAndGlyphs" xml:space="preserve">2</text><text x="8.33" y="0.00" font-size="7.11" textLength="32.67" lengthAdjust="spacingAndGlyphs" xml:space="preserve"> + 1% CH</text><text x="41.07" y="1.11" font-size="4.97" textLength="3.01" lengthAdjust="spacingAndGlyphs" xml:space="preserve">4</text></g>
<line x1="409.20" x2="422.53" y1="213.40" y2="213.40" stroke="#000000" stroke-opacity="1" stroke-width="1.250" stroke-linecap="square"/>
<g transform="translate(428.67 215.90)" fill="#000000"><text x="0.00" y="0.00" font-size="7.11" textLength="38.68" lengthAdjust="spacingAndGlyphs" xml:space="preserve">Spitzer 4.5 </text><text x="38.68" y="0.00" font-size="7.11" textLength="4.31" lengthAdjust="spacingAndGlyphs" font-style="italic" xml:space="preserve">μ</text><text x="42.99" y="0.00" font-size="7.11" textLength="6.59" lengthAdjust="spacingAndGlyphs" xml:space="preserve">m</text></g>
<rect x="409.20" y="221.82" width="13.33" height="4.67" fill="#808080" fill-opacity="0.3" stroke="#808080" stroke-opacity="0.3" stroke-width="0.833"/>
<g transform="translate(428.67 226.65)" fill="#000000"><text x="0.00" y="0.00" font-size="7.11" textLength="6.46" lengthAdjust="spacingAndGlyphs" xml:space="preserve">1 </text><text x="6.46" y="0.00" font-size="7.11" textLength="4.29" lengthAdjust="spacingAndGlyphs" font-style="italic" xml:space="preserve">σ</text></g>
<rect x="409.20" y="232.57" width="13.33" height="4.67" fill="#ffc0cb" fill-opacity="0.2" stroke="#ffc0cb" stroke-opacity="0.2" stroke-width="0.833"/>
<g transform="translate(428.67 237.40)" fill="#000000"><text x="0.00" y="0.00" font-size="7.11" textLength="6.46" lengthAdjust="spacingAndGlyphs" xml:space="preserve">3 </text><text x="6.46" y="0.00" font-size="7.11" textLength="4.29" lengthAdjust="spacingAndGlyphs" font-style="italic" xml:space="preserve">σ</text></g>
</svg></body></html>
